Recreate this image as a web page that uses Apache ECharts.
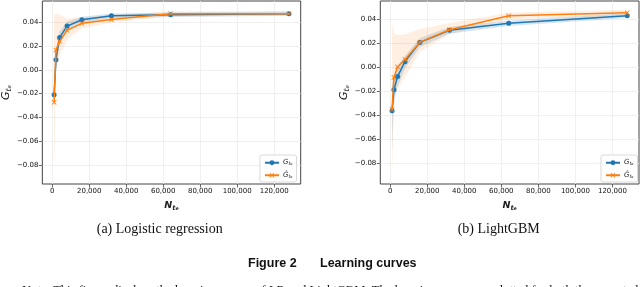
<!DOCTYPE html>
<html>
<head>
<meta charset="utf-8">
<script src="https://cdn.jsdelivr.net/npm/echarts@6/dist/echarts.min.js"></script>
<style>
html,body{margin:0;padding:0;background:#fff;}
#c{width:640px;height:287px;}
</style>
</head>
<body>
<div id="c"></div>
<script>
// ---- data ----
const sampleSizes = [1000, 2000, 4000, 8000, 16000, 32000, 64000, 128000];

// (a) Logistic regression
const lrG        = [-0.0209, 0.0084, 0.0271, 0.0366, 0.0419, 0.0452, 0.0461, 0.0469];
const lrGLow     = [-0.0300, 0.0000, 0.0220, 0.0325, 0.0395, 0.0432, 0.0443, 0.0452];
const lrGHigh    = [-0.0120, 0.0170, 0.0320, 0.0405, 0.0445, 0.0472, 0.0480, 0.0488];
const lrGhat     = [-0.0273, 0.0165, 0.0238, 0.0330, 0.0389, 0.0422, 0.0469, 0.0469];
const lrGhatLow  = [-0.0900, 0.0000, 0.0120, 0.0250, 0.0345, 0.0395, 0.0448, 0.0450];
const lrGhatHigh = [ 0.0460, 0.0470, 0.0460, 0.0430, 0.0440, 0.0455, 0.0490, 0.0490];

// (b) LightGBM
const gbmG        = [-0.0361, -0.0186, -0.0075, 0.0048, 0.0208, 0.0308, 0.0368, 0.0429];
const gbmGLow     = [-0.0700, -0.0300, -0.0160, -0.0010, 0.0170, 0.0280, 0.0345, 0.0410];
const gbmGHigh    = [-0.0150, -0.0080,  0.0010, 0.0100, 0.0245, 0.0335, 0.0390, 0.0450];
const gbmGhat     = [-0.0350, -0.0083,  0.0005, 0.0066, 0.0210, 0.0313, 0.0429, 0.0454];
const gbmGhatLow  = [-0.0905, -0.0250, -0.0180, -0.0080, 0.0130, 0.0275, 0.0400, 0.0428];
const gbmGhatHigh = [ 0.0370,  0.0285,  0.0270, 0.0275, 0.0320, 0.0370, 0.0455, 0.0480];

// tick values
const yTicks = [-0.08, -0.06, -0.04, -0.02, 0.00, 0.02, 0.04];
const xTicks = [0, 20000, 40000, 60000, 80000, 100000, 120000];

const BLUE = '#1f77b4', ORANGE = '#ff7f0e';
const crossPath = 'path://M0,1.2L1.2,0L5,3.8L8.8,0L10,1.2L6.2,5L10,8.8L8.8,10L5,6.2L1.2,10L0,8.8L3.8,5Z';

const chart = echarts.init(document.getElementById('c'), null, {renderer: 'canvas'});

const fmtY = v => (v < -1e-9 ? '\u2212' : '') + Math.abs(v).toFixed(2);
const fmtX = v => Math.round(v).toLocaleString('en-US');

const subRich = (size) => ({
  g: {fontFamily: 'DejaVu Sans', fontStyle: 'italic', fontSize: size, color: '#222', verticalAlign: 'top', lineHeight: size + 1},
  s: {fontFamily: 'DejaVu Sans', fontStyle: 'italic', fontSize: size * 0.7, color: '#222', verticalAlign: 'bottom', lineHeight: size * 0.75},
  e: {fontFamily: 'DejaVu Sans', fontStyle: 'italic', fontSize: size * 0.5, color: '#222', verticalAlign: 'bottom', lineHeight: size * 0.45}
});

function xAxisCfg(gi) {
  return {
    type: 'value', gridIndex: gi, min: -5350, max: 134350,
    minInterval: 20000, maxInterval: 20000,
    axisLine: {show: false, onZero: false},
    axisTick: {show: true, length: 3.5, lineStyle: {color: '#444', width: 0.8}, customValues: xTicks},
    axisLabel: {formatter: fmtX, fontFamily: 'DejaVu Sans', fontSize: 7, color: '#111', margin: 4,
                customValues: xTicks},
    splitLine: {show: true, lineStyle: {color: '#ececec', width: 0.8}},
    name: '{g|N}{s|t}{e|e}', nameLocation: 'middle', nameGap: 17,
    nameTextStyle: {rich: subRich(9.5), fontWeight: 'bold'}
  };
}
function yAxisCfg(gi, mn, mx) {
  return {
    type: 'value', gridIndex: gi, min: mn, max: mx,
    minInterval: 0.02, maxInterval: 0.02,
    axisLine: {show: false, onZero: false},
    axisTick: {show: true, length: 3.5, lineStyle: {color: '#444', width: 0.8}, customValues: yTicks},
    axisLabel: {formatter: fmtY, fontFamily: 'DejaVu Sans', fontSize: 7, color: '#111', margin: 4,
                customValues: yTicks},
    splitLine: {show: true, lineStyle: {color: '#ececec', width: 0.8}},
    name: '{g|G}{s|t}{e|e}', nameLocation: 'middle', nameGap: 19, nameRotate: 90,
    nameTextStyle: {rich: subRich(11)}
  };
}

function band(gi, xs, lo, hi, color) {
  return {
    type: 'custom', xAxisIndex: gi, yAxisIndex: gi, silent: true, z: 1,
    data: [[xs[0], lo[0]]],
    renderItem: function (params, api) {
      const pts = [];
      for (let i = 0; i < xs.length; i++) pts.push(api.coord([xs[i], hi[i]]));
      for (let i = xs.length - 1; i >= 0; i--) pts.push(api.coord([xs[i], lo[i]]));
      return {type: 'polygon', shape: {points: pts}, style: {fill: color}};
    }
  };
}
function line(gi, name, xs, ys, color, symbol, size, z) {
  return {
    type: 'line', name: name, xAxisIndex: gi, yAxisIndex: gi, z: z,
    data: xs.map((x, i) => [x, ys[i]]),
    symbol: symbol, symbolSize: size, showSymbol: true,
    lineStyle: {color: color, width: 1.5},
    itemStyle: {color: color, borderWidth: 0},
    emphasis: {disabled: true}, animation: false
  };
}

const legendRich = {
  g: {fontFamily: 'DejaVu Sans', fontStyle: 'italic', fontSize: 7, color: '#222', verticalAlign: 'top', lineHeight: 7.5},
  s: {fontFamily: 'DejaVu Sans', fontStyle: 'italic', fontSize: 5, color: '#222', verticalAlign: 'bottom', lineHeight: 5},
  e: {fontFamily: 'DejaVu Sans', fontStyle: 'italic', fontSize: 3.5, color: '#222', verticalAlign: 'bottom', lineHeight: 3}
};
const legendNames = {
  'G_a': '{g|G}{s|t}{e|e}', 'Ghat_a': '{g|\u011C}{s|t}{e|e}',
  'G_b': '{g|G}{s|t}{e|e}', 'Ghat_b': '{g|\u011C}{s|t}{e|e}'
};
function legendCfg(names, right) {
  return {
    data: names, orient: 'vertical', right: right, bottom: 105,
    itemWidth: 14, itemHeight: 6, itemGap: 5,
    padding: [4, 4, 3, 4],
    borderColor: '#d0d0d0', borderWidth: 0.8, borderRadius: 2,
    backgroundColor: 'rgba(255,255,255,0.85)',
    formatter: n => legendNames[n],
    textStyle: {rich: legendRich, padding: [0, 0, 0, -1]},
    selectedMode: false
  };
}

const option = {
  animation: false,
  backgroundColor: '#fff',
  grid: [
    {left: 41.7, top: 1, width: 259, height: 183, show: true, borderColor: '#444', borderWidth: 1, backgroundColor: '#fff'},
    {left: 380.3, top: 1, width: 258.7, height: 183, show: true, borderColor: '#444', borderWidth: 1, backgroundColor: '#fff'}
  ],
  xAxis: [xAxisCfg(0), xAxisCfg(1)],
  yAxis: [yAxisCfg(0, -0.0957, 0.0576), yAxisCfg(1, -0.0969, 0.0552)],
  legend: [legendCfg(['G_a', 'Ghat_a'], 343.5), legendCfg(['G_b', 'Ghat_b'], 2.5)],
  series: [
    band(0, sampleSizes, lrGLow, lrGHigh, 'rgba(31,119,180,0.18)'),
    band(0, sampleSizes, lrGhatLow, lrGhatHigh, 'rgba(255,127,14,0.12)'),
    line(0, 'G_a', sampleSizes, lrG, BLUE, 'circle', 5, 3),
    line(0, 'Ghat_a', sampleSizes, lrGhat, ORANGE, crossPath, 5, 4),
    band(1, sampleSizes, gbmGLow, gbmGHigh, 'rgba(31,119,180,0.18)'),
    band(1, sampleSizes, gbmGhatLow, gbmGhatHigh, 'rgba(255,127,14,0.12)'),
    line(1, 'G_b', sampleSizes, gbmG, BLUE, 'circle', 5, 3),
    line(1, 'Ghat_b', sampleSizes, gbmGhat, ORANGE, crossPath, 5, 4)
  ],
  graphic: [
    {type: 'text', x: 159.7, y: 229.5, style: {text: '(a) Logistic regression', font: '14px "Liberation Serif"', fill: '#111', align: 'center', verticalAlign: 'middle'}},
    {type: 'text', x: 498.7, y: 229.5, style: {text: '(b) LightGBM', font: '14px "Liberation Serif"', fill: '#111', align: 'center', verticalAlign: 'middle'}},
    {type: 'text', x: 248, y: 263.3, style: {text: 'Figure 2', font: 'bold 12.5px "Liberation Sans"', fill: '#111', align: 'left', verticalAlign: 'middle'}},
    {type: 'text', x: 320, y: 263.3, style: {text: 'Learning curves', font: 'bold 12.5px "Liberation Sans"', fill: '#111', align: 'left', verticalAlign: 'middle'}},
    {type: 'text', x: 22, y: 291, style: {text: 'Note: This figure displays the learning curves of LR and LightGBM. The learning curves are plotted for both the expected and empirical', font: '12.6px "Liberation Serif"', fill: '#111', align: 'left', verticalAlign: 'middle'}}
  ]
};
chart.setOption(option);
</script>
</body>
</html>
